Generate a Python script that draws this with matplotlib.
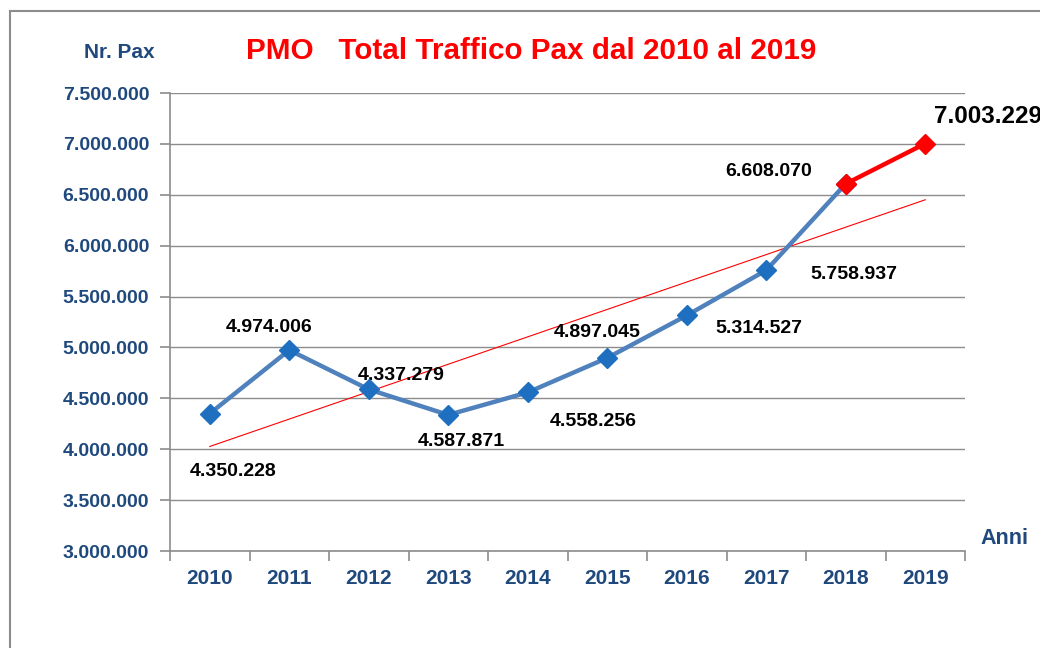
import matplotlib
matplotlib.use('Agg')
from matplotlib import pyplot
from matplotlib import patches
import numpy

years = ['2010', '2011', '2012', '2013', '2014', '2015', '2016', '2017', '2018', '2019']
pax = [4350228, 4974006, 4587871, 4337279, 4558256, 4897045, 5314527, 5758937, 6608070, 7003229]
# data labels as they sit in the original (Excel placed them loosely)
labels = ['4.350.228', '4.974.006', '4.337.279', '4.587.871', '4.558.256',
          '4.897.045', '5.314.527', '5.758.937', '6.608.070', '7.003.229']
label_offsets = [(23, -58), (-20, 23), (32, 14), (13, -27), (65, -29),
                 (-10, 25), (72, -13), (88, -4), (-77, 12), (9, 27)]
yticks = numpy.arange(3000000, 7500001, 500000)

BLUE_TXT = '#1F497D'
LINE_BLUE = '#4F81BD'
MARK_BLUE = '#1F6FC0'
GRID = '#8C8C8C'


def fmt(v):
  return '{:,}'.format(int(v)).replace(',', '.')


def main():
  pyplot.rcParams['font.family'] = ['Liberation Sans', 'DejaVu Sans']
  fig = pyplot.figure(figsize=(10.4, 6.48), dpi=100)
  fig.patches.append(patches.Rectangle(
      (10 / 1040, -0.1), 1.2, 1.1 - 11 / 648, transform=fig.transFigure,
      fill=False, edgecolor='#8C8C8C', linewidth=1.5))
  ax = fig.add_axes([170 / 1040, 1 - 551 / 648, 795 / 1040, 458 / 648])

  x = numpy.arange(len(years))
  ax.plot(x[:-1], pax[:-1], color=LINE_BLUE, linewidth=3.2, marker='D',
          markersize=10, markerfacecolor=MARK_BLUE, markeredgecolor=MARK_BLUE,
          zorder=4)
  ax.plot(x[-2:], pax[-2:], color='red', linewidth=3.2, marker='D',
          markersize=10, markerfacecolor='red', markeredgecolor='red', zorder=5)

  slope, inter = numpy.polyfit(x, pax, 1)
  ax.plot(x, slope * x + inter, color='red', linewidth=0.8, zorder=3)

  for i, (lab, off) in enumerate(zip(labels, label_offsets)):
    if i == len(labels) - 1:
      ax.annotate(lab, (x[i], pax[i]), xytext=off, textcoords='offset pixels',
                  ha='left', va='center', fontsize=17.5, fontweight='bold',
                  color='black', annotation_clip=False)
    else:
      ax.annotate(lab, (x[i], pax[i]), xytext=off, textcoords='offset pixels',
                  ha='center', va='center', fontsize=14, fontweight='bold',
                  color='black')

  ax.set_xlim(-0.5, len(years) - 0.5)
  ax.set_ylim(yticks[0], yticks[-1])
  ax.set_yticks(yticks)
  ax.set_yticklabels([fmt(v) for v in yticks], fontsize=14, fontweight='bold',
                     color=BLUE_TXT)
  ax.set_xticks(x)
  ax.set_xticklabels(years, fontsize=15, fontweight='bold', color=BLUE_TXT)
  ax.set_xticks(numpy.arange(-0.5, len(years)), minor=True)
  ax.tick_params(axis='x', which='major', length=0, pad=13)
  ax.tick_params(axis='x', which='minor', length=7, color=GRID, width=1.2)
  ax.tick_params(axis='y', length=7, color=GRID, width=1.2, pad=8)
  ax.yaxis.grid(True, color=GRID, linewidth=1)
  ax.set_axisbelow(True)
  for side in ('top', 'right'):
    ax.spines[side].set_visible(False)
  for side in ('left', 'bottom'):
    ax.spines[side].set_color(GRID)
    ax.spines[side].set_linewidth(1.2)

  fig.text(531 / 1040, 1 - 51 / 648, 'PMO   Total Traffico Pax dal 2010 al 2019',
           ha='center', va='center', fontsize=21.3, fontweight='bold', color='red')
  fig.text(155 / 1040, 1 - 52 / 648, 'Nr. Pax', ha='right', va='center',
           fontsize=15, fontweight='bold', color=BLUE_TXT)
  fig.text(980 / 1040, 1 - 538 / 648, 'Anni', ha='left', va='center',
           fontsize=15.5, fontweight='bold', color=BLUE_TXT)

  fig.savefig('out.png', dpi=100)


if __name__ == '__main__':
  main()
